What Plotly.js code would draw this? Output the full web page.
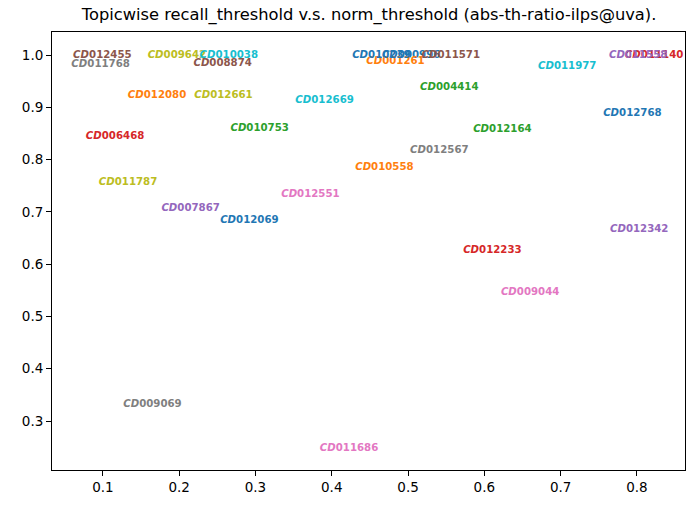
<!DOCTYPE html>
<html>
<head>
<meta charset="utf-8">
<script src="https://cdn.plot.ly/plotly-3.0.1.min.js"></script>
<style>html,body{margin:0;padding:0;background:#fff;}#chart{width:686px;height:506px;}</style>
</head>
<body>
<div id="chart"></div>
<script>
// Topics (sorted order; colour follows the default 10-colour cycle in this order)
var topics = ["CD000996","CD001261","CD004414","CD006468","CD007867","CD008874","CD009044","CD009069",
  "CD009642","CD010038","CD010239","CD010558","CD010753","CD011140","CD011558","CD011571","CD011686",
  "CD011768","CD011787","CD011977","CD012069","CD012080","CD012164","CD012233","CD012342","CD012455",
  "CD012551","CD012567","CD012661","CD012669","CD012768"];
// norm_threshold (x)
var normThreshold = [0.504,0.4835,0.554,0.116,0.215,0.257,0.660,0.165,
  0.197,0.265,0.465,0.469,0.3055,0.8225,0.8016,0.556,0.4226,
  0.097,0.133,0.7086,0.292,0.171,0.6236,0.6105,0.803,0.0993,
  0.372,0.541,0.258,0.3906,0.794];
// recall_threshold (y)
var recallThreshold = [1.0,0.987,0.937,0.845,0.706,0.983,0.545,0.331,
  1.0,1.0,1.0,0.784,0.860,1.0,1.0,1.0,0.248,
  0.981,0.757,0.979,0.6845,0.922,0.857,0.627,0.667,1.0,
  0.734,0.818,0.922,0.914,0.889];
var xTicks = [0.1,0.2,0.3,0.4,0.5,0.6,0.7,0.8];
var yTicks = [0.3,0.4,0.5,0.6,0.7,0.8,0.9,1.0];

var palette = ['#1f77b4','#ff7f0e','#2ca02c','#d62728','#9467bd','#8c564b','#e377c2','#7f7f7f','#bcbd22','#17becf'];
var colors = topics.map(function(t,i){return palette[i%10];});
var labels = topics.map(function(t){return '<i>'+t.slice(0,2)+'</i>'+t.slice(2);});

var trace = {
  x: normThreshold, y: recallThreshold, text: labels,
  mode: 'text', type: 'scatter', textposition: 'middle center',
  textfont: {family: 'DejaVu Sans', size: 10.2, weight: 'bold', color: colors},
  hoverinfo: 'none', showlegend: false, cliponaxis: false
};
var axisCommon = {
  showgrid: false, zeroline: false, showline: true, mirror: true,
  linecolor: '#000', linewidth: 1, ticks: 'outside', ticklen: 5, tickwidth: 1,
  tickcolor: '#000', tickfont: {family: 'DejaVu Sans', size: 13.5, color: '#000'},
  tickformat: '.1f'
};
var layout = {
  width: 686, height: 506,
  margin: {l: 52, r: 1, t: 32, b: 36},
  paper_bgcolor: '#fff', plot_bgcolor: '#fff',
  title: {text: 'Topicwise recall_threshold v.s. norm_threshold (abs-th-ratio-ilps@uva).',
    font: {family: 'DejaVu Sans', size: 16.3, color: '#000'},
    x: 0.538, xanchor: 'center', y: 0.972, yanchor: 'middle'},
  xaxis: Object.assign({}, axisCommon, {range: [0.0333, 0.863], tickvals: xTicks}),
  yaxis: Object.assign({}, axisCommon, {range: [0.2063, 1.044], tickvals: yTicks}),
  showlegend: false
};
Plotly.newPlot('chart', [trace], layout, {staticPlot: true, displayModeBar: false});
</script>
</body>
</html>
